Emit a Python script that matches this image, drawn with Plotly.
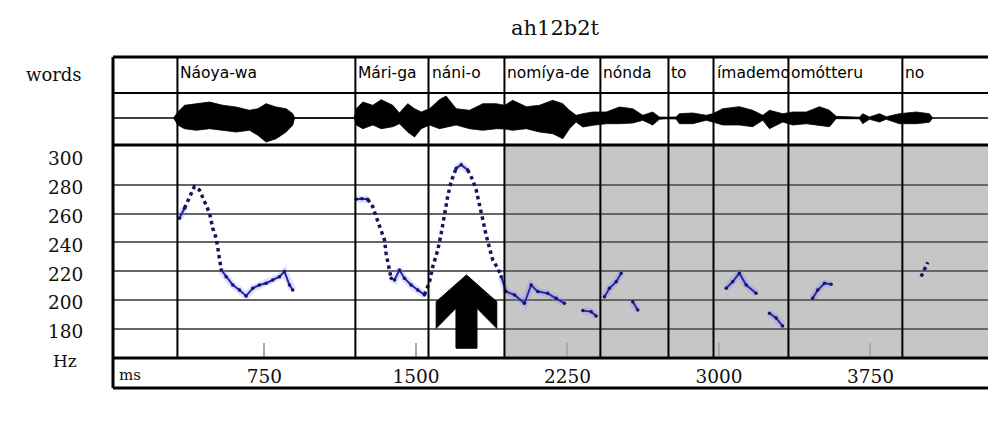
import plotly.graph_objects as go

# ---------------------------------------------------------------- data
title_text = "ah12b2t"

word_names = ["Náoya-wa", "Mári-ga", "náni-o", "nomíya-de", "nónda",
              "to", "ímademo", "omótteru", "no"]
word_onsets_ms = [319, 1200, 1562, 1938, 2413, 2750, 2973, 3344, 3908]

x_tick_ms = [750, 1500, 2250, 3000, 3750]
hz_grid = [180, 200, 220, 240, 260, 280]
hz_labels = [180, 200, 220, 240, 260, 280, 300]

# F0 track, densely sampled stretches (drawn as a joined line)
f0_dense_ms = [329, 354, None,
               536, 560, 593, 626, 659, 692, 725, 758, 791, 824, 849, 874, 890, None,
               1204, 1232, 1261, None,
               1377, 1394, 1418, 1443, 1476, 1509, 1542, None,
               1699, 1724, 1756, None,
               1922, 1946, 1988, 2037, 2070, 2103, 2152, 2194, 2235, None,
               2326, 2367, 2392, None,
               2433, 2458, 2491, 2516, None,
               2573, 2598, None,
               3036, 3068, 3101, 3135, 3184, None,
               3250, 3283, 3315, None,
               3464, 3489, 3523, 3555]
f0_dense_hz = [256.7, 263.7, None,
               220.8, 216.2, 210.4, 206.9, 202.8, 208.1, 210.4, 211.6, 213.9, 216.2, 219.7, 210.4, 206.9, None,
               269.9, 270.2, 269.9, None,
               215.1, 213.9, 220.8, 215.1, 210.4, 206.9, 203.5, None,
               291.5, 293.8, 290.3, None,
               216.2, 205.8, 203.5, 197.7, 210.4, 205.8, 204.6, 201.2, 197.7, None,
               192.6, 191.9, 188.9, None,
               202.3, 208.1, 212.7, 218.5, None,
               198.8, 193.0, None,
               208.1, 212.7, 218.5, 210.4, 204.6, None,
               190.8, 187.5, 181.9, None,
               201.2, 206.9, 211.6, 210.9]

# F0 track, fast rises and falls (sparse samples, dotted)
f0_sparse_ms = [354, 403, 428, 453, 478, 494, 511, 519, 527, 536, None,
                1261, 1286, 1303, 1328, 1344, 1352, 1361, 1377, None,
                1542, 1567, 1583, 1608, 1625, 1641, 1657, 1674, 1699, None,
                1756, 1781, 1798, 1814, 1831, 1847, 1864, 1880, 1905, 1922, None,
                4001, 4017, 4034]
f0_sparse_hz = [263.7, 278.7, 276.4, 268.3, 260.2, 249.8, 242.8, 235.9, 229.0, 220.8, None,
                269.9, 264.8, 257.8, 248.6, 241.7, 232.4, 225.5, 215.1, None,
                203.5, 212.7, 223.1, 234.7, 246.3, 260.2, 271.8, 282.2, 291.5, None,
                290.3, 283.3, 276.4, 264.8, 255.6, 245.1, 235.9, 227.8, 222.0, 216.2, None,
                216.2, 220.8, 226.2]

# waveform amplitude envelope (upper / lower)
wave_ms = [300, 321, 354, 412, 478, 544, 610, 676, 717, 758, 808, 857, 890, 899,
           1195, 1204, 1237, 1286, 1328, 1385, 1418, 1459, 1493, 1526, 1567, 1616,
           1649, 1699, 1765, 1831, 1897, 1940, 1979, 2046, 2111, 2177, 2227, 2260,
           2293, 2326, 2375, 2442, 2507, 2573, 2623, 2672, 2705, 2739, 2788, 2804,
           2870, 2937, 2969, 3019, 3101, 3167, 3217, 3250, 3316, 3365, 3432, 3498,
           3547, 3580, 3696, 3712, 3745, 3795, 3828, 3894, 3976, 4042, 4058]
wave_top = [0, 6, 12.7, 14.3, 16, 12.7, 11, 7.7, 9.3, 14.3, 11, 9.3, 4.3, 0,
            0, 9.3, 16, 12.7, 18.3, 12.7, 5, 14.3, 9.3, 6, 9.3, 18.3,
            22, 9.3, 7.7, 14.3, 14.3, 12.7, 17.7, 11.3, 12.7, 17.7, 14.3, 7.7,
            2.7, 4.3, 6, 6, 11, 9.3, 2.7, 6, 1, 0.8, 1, 4.3,
            5, 2.7, 4.3, 9.3, 11.3, 7.7, 2.7, 7.7, 4.3, 6, 6, 11.3,
            7.7, 1.7, 0.8, 4.3, 1, 4.3, 1.3, 4.3, 6, 4.3, 0]
wave_bottom = [0, -7, -10.7, -12.3, -10.7, -12.3, -14, -12.3, -17.3, -24, -20.7, -14, -7, 0,
               0, -7, -10.7, -7, -10.7, -8.7, -5.7, -14, -19, -10.7, -7, -10.7,
               -9, -7, -10.7, -12.3, -10.7, -11, -12.3, -10.7, -14, -15.7, -20.7, -10.7,
               -4, -9, -7.3, -5.7, -5.7, -5, -2.3, -7, -1.3, -0.8, -1, -5.7,
               -5.7, -2.3, -4, -7, -7, -8.7, -2.3, -10.7, -4, -7, -5.7, -7,
               -8.7, -0.7, -0.8, -5.7, -1.3, -4, -1.3, -5.7, -5.7, -4.3, 0]

# ---------------------------------------------------------------- layout geometry
W, H = 988, 422
M_L, M_T, M_B = 113, 57, 34
PLOT_H = H - M_T - M_B                  # 331 px
X_MAX = 4332                            # ms at the right edge
HZ_RANGE = [159.7, 307.6]
WAVE_RANGE = [-27, 25]

AXIS_ROW_TOP = 30 / PLOT_H              # pitch panel bottom
PITCH_TOP = 243 / PLOT_H                # waveform row bottom
WAVE_TOP = 295 / PLOT_H                 # words row bottom

SERIF = "DejaVu Serif, Liberation Serif, serif"
SANS = "DejaVu Sans, Verdana, sans-serif"

fig = go.Figure()

# waveform
fig.add_trace(go.Scatter(x=wave_ms, y=wave_bottom, xaxis="x", yaxis="y2", mode="lines",
                         line=dict(width=0.8, color="black"), hoverinfo="skip",
                         showlegend=False))
fig.add_trace(go.Scatter(x=wave_ms, y=wave_top, xaxis="x", yaxis="y2", mode="lines",
                         fill="tonexty", fillcolor="black",
                         line=dict(width=0.8, color="black"), hoverinfo="skip",
                         showlegend=False))

# pitch track: soft halo, joined stretches, dotted fast movements
fig.add_trace(go.Scatter(x=f0_dense_ms, y=f0_dense_hz, mode="lines",
                         line=dict(width=7, color="rgba(125,125,255,0.25)"),
                         hoverinfo="skip", showlegend=False))
fig.add_trace(go.Scatter(x=f0_dense_ms, y=f0_dense_hz, mode="lines+markers",
                         line=dict(width=2, color="#2626b0"),
                         marker=dict(size=3.5, color="#15155e"),
                         showlegend=False))
fig.add_trace(go.Scatter(x=f0_sparse_ms, y=f0_sparse_hz, mode="lines",
                         line=dict(width=3.5, color="#15155e", dash="dot"),
                         showlegend=False))

shapes = []
# shaded stretch of the pitch panel
shapes.append(dict(type="rect", xref="x", yref="y", x0=word_onsets_ms[3], x1=X_MAX,
                   y0=HZ_RANGE[0], y1=HZ_RANGE[1], fillcolor="#c6c6c6",
                   line=dict(width=0), layer="below"))
# word boundaries
for t in word_onsets_ms:
    shapes.append(dict(type="line", xref="x", yref="paper", x0=t, x1=t,
                       y0=AXIS_ROW_TOP, y1=1, line=dict(color="black", width=2)))
# frame
for yy, lw in [(1, 3), (WAVE_TOP, 2), (PITCH_TOP, 3), (AXIS_ROW_TOP, 3), (0, 3)]:
    shapes.append(dict(type="line", xref="paper", yref="paper", x0=0, x1=1,
                       y0=yy, y1=yy, line=dict(color="black", width=lw)))
shapes.append(dict(type="line", xref="paper", yref="y2", x0=0, x1=1, y0=0, y1=0,
                   line=dict(color="black", width=1.5)))
shapes.append(dict(type="line", xref="paper", yref="paper", x0=0, x1=0, y0=0, y1=1,
                   line=dict(color="black", width=3)))

# pointer arrow under the náni-o peak
ax, tip = 1750, 217.4
head_w, shaft_w = 150, 52
head_hz, barb_hz, neck_hz, tail_hz = 198.8, 180.3, 194.2, 166.5
arrow_pts = [(ax, tip), (ax - head_w, head_hz), (ax - head_w, barb_hz),
             (ax - shaft_w, neck_hz), (ax - shaft_w, tail_hz), (ax + shaft_w, tail_hz),
             (ax + shaft_w, neck_hz), (ax + head_w, barb_hz), (ax + head_w, head_hz)]
path = "M " + " L ".join(f"{px},{py}" for px, py in arrow_pts) + " Z"
shapes.append(dict(type="path", xref="x", yref="y", path=path, fillcolor="black",
                   line=dict(color="black", width=1), layer="above"))

annotations = []
for name, t in zip(word_names, word_onsets_ms):
    annotations.append(dict(x=t, xref="x", y=(WAVE_TOP + 1) / 2, yref="paper",
                            text=name, showarrow=False, xanchor="left", xshift=1,
                            yanchor="middle", yshift=2,
                            font=dict(family=SANS, size=15.5, color="black")))
annotations.append(dict(x=0, xref="paper", y=(WAVE_TOP + 1) / 2, yref="paper",
                        text="words", showarrow=False, xanchor="center", xshift=-59,
                        yanchor="middle", yshift=1,
                        font=dict(family=SERIF, size=18, color="#111")))
for v in hz_labels:
    annotations.append(dict(x=0, xref="paper", y=v, yref="y", text=str(v),
                            showarrow=False, xanchor="center", xshift=-48,
                            yanchor="middle", yshift=-3,
                            font=dict(family=SERIF, size=18.5, color="#111")))
annotations.append(dict(x=0, xref="paper", y=(388 - 361) / PLOT_H, yref="paper",
                        text="Hz", showarrow=False, xanchor="center", xshift=-48,
                        yanchor="middle",
                        font=dict(family=SERIF, size=17, color="#111")))
annotations.append(dict(x=0, xref="paper", y=AXIS_ROW_TOP / 2, yref="paper",
                        text="ms", showarrow=False, xanchor="left", xshift=4,
                        yanchor="middle", yshift=-2,
                        font=dict(family=SERIF, size=15, color="#111")))

fig.update_layout(
    width=W, height=H, autosize=False,
    margin=dict(l=M_L, r=0, t=M_T, b=M_B, pad=0),
    paper_bgcolor="white", plot_bgcolor="white",
    title=dict(text=title_text, x=555 / W, xref="container", xanchor="center",
               y=1 - 28 / H, yref="container", yanchor="middle",
               font=dict(family=SERIF, size=21, color="#111")),
    xaxis=dict(range=[0, X_MAX], anchor="y", showgrid=False, zeroline=False,
               showline=False, tickvals=x_tick_ms, ticktext=[str(v) for v in x_tick_ms],
               ticks="inside", ticklen=15, tickwidth=1.5, tickcolor="#aaaaaa",
               ticklabelstandoff=5,
               tickfont=dict(family=SERIF, size=18.5, color="#111")),
    yaxis=dict(domain=[AXIS_ROW_TOP, PITCH_TOP], range=HZ_RANGE, tickvals=hz_grid,
               showticklabels=False, ticks="", showgrid=True, gridcolor="#666666",
               gridwidth=1.5, zeroline=False, showline=False),
    yaxis2=dict(domain=[PITCH_TOP, WAVE_TOP], range=WAVE_RANGE, anchor="x",
                visible=False),
    shapes=shapes, annotations=annotations, showlegend=False,
)

fig.write_html("out.html")
